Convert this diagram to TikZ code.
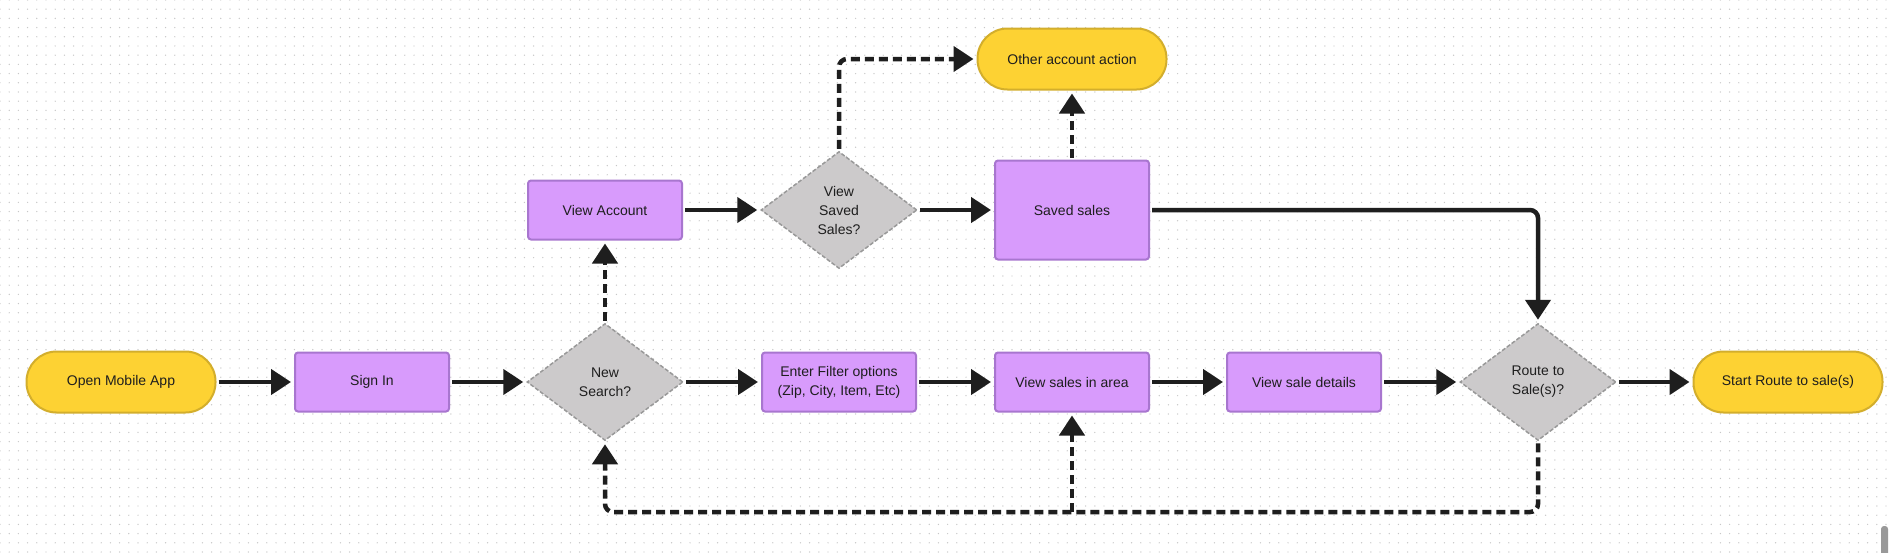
\documentclass[tikz,border=0pt]{standalone}
\usepackage{fontspec}
\setmainfont{Liberation Sans}
\usetikzlibrary{arrows.meta,shapes.geometric,patterns.meta}

\definecolor{pillfill}{HTML}{FDD233}
\definecolor{pillline}{HTML}{D3AE2C}
\definecolor{boxfill}{HTML}{D89BFC}
\definecolor{boxline}{HTML}{A876CF}
\definecolor{askfill}{HTML}{CCCACB}
\definecolor{askline}{HTML}{999999}
\definecolor{ink}{HTML}{1E1E1E}

\begin{document}
\begin{tikzpicture}[x=1pt, y=-1pt,
		every node/.style={font=\fontsize{14}{19}\selectfont, text=ink, align=center},
		pill/.style={rectangle, rounded corners=30pt, fill=pillfill, draw=pillline, line width=2pt, minimum width=189pt, minimum height=61pt},
		stepbox/.style={rectangle, rounded corners=3pt, fill=boxfill, draw=boxline, line width=2pt, minimum width=154pt, minimum height=59pt},
		ask/.style={diamond, aspect=1.33, inner sep=0pt, fill=askfill, draw=askline, line width=1.5pt, dash pattern=on 4pt off 2pt, minimum width=156pt, minimum height=117pt},
		flow/.style={draw=ink, line width=4.5pt, rounded corners=8pt, shorten >=3pt, shorten <=2pt, -{Triangle[length=20pt, width=25pt]}},
		maybe/.style={flow, dash pattern=on 9pt off 5pt}]
		%%%%% START %%%%%
		
		\useasboundingbox (0, 0) rectangle (1890, 552);
		\fill[white] (0, 0) rectangle (1890, 552);
		\fill[pattern={Dots[distance=9.2pt, radius=0.7pt]}, pattern color=black!22] (0, 0) rectangle (1890, 552);
		\fill[black!40, rounded corners=3pt] (1881, 526) rectangle (1888, 556);
		
		% main row
		\node[pill] (open) at (121, 382) {Open Mobile App};
		\node[stepbox] (signin) at (372, 382) {Sign In};
		\node[ask] (newsearch) at (605, 382) {New\\Search?};
		\node[stepbox] (filter) at (839, 382) {Enter Filter options\\(Zip, City, Item, Etc)};
		\node[stepbox] (area) at (1072, 382) {View sales in area};
		\node[stepbox] (details) at (1304, 382) {View sale details};
		\node[ask] (route) at (1538, 382) {Route to\\Sale(s)?};
		\node[pill] (start) at (1788, 382) {Start Route to sale(s)};
		
		% account row
		\node[stepbox] (account) at (605, 210) {View Account};
		\node[ask] (savedq) at (839, 210) {View\\Saved\\Sales?};
		\node[stepbox, minimum height=99pt] (saved) at (1072, 210) {Saved sales};
		\node[pill] (other) at (1072, 59) {Other account action};
		
		\coordinate (loop) at (1072, 512);
		
		\draw[flow] (open) -- (signin);
		\draw[flow] (signin) -- (newsearch);
		\draw[flow] (newsearch) -- (filter);
		\draw[flow] (filter) -- (area);
		\draw[flow] (area) -- (details);
		\draw[flow] (details) -- (route);
		\draw[flow] (route) -- (start);
		
		\draw[maybe] (newsearch) -- (account);
		\draw[flow] (account) -- (savedq);
		\draw[flow] (savedq) -- (saved);
		\draw[maybe] (savedq.north) |- (other.west);
		\draw[maybe] (saved) -- (other);
		\draw[flow] (saved.east) -| (route.north);
		
		\draw[maybe] (route.south) |- (loop) -| (newsearch.south);
		\draw[maybe, shorten <=0pt] (loop) -- (area.south);
		
		%%%%% END %%%%%
\end{tikzpicture}
\end{document}
